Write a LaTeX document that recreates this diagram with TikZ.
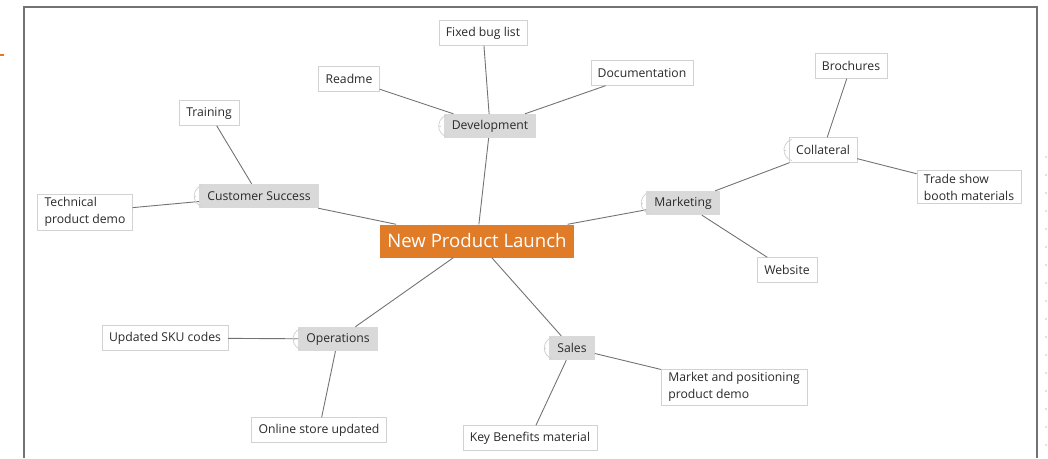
\documentclass[tikz,border=0pt]{standalone}
\usepackage{fontspec}
\setmainfont{Open Sans}
\definecolor{launch}{HTML}{E07B28}
\definecolor{branchgray}{HTML}{D9D9D9}
\definecolor{boxline}{HTML}{D2D2D2}
\definecolor{ink}{HTML}{2A2A2A}
\definecolor{linkgray}{HTML}{737373}

\begin{document}
\begin{tikzpicture}[x=1pt,y=-1pt,
    root/.style={fill=launch,text=white,font=\fontsize{18.6}{20}\selectfont,minimum height=33pt,inner xsep=7pt},
    branch/.style={fill=branchgray,text=ink,font=\fontsize{12.2}{14}\selectfont,minimum height=24pt,inner xsep=8pt},
    leaf/.style={draw=boxline,fill=white,text=ink,font=\fontsize{12.2}{17}\selectfont,minimum height=25pt,inner xsep=7pt,align=left},
    link/.style={draw=linkgray,line width=0.9pt},
    knob/.style={draw=boxline,line width=0.8pt}]
  \useasboundingbox (0,0) rectangle (1048,458);
  \draw[gray!90!black,line width=2pt] (24,458) -- (24,7) -- (1037,7) -- (1037,458);
  \draw[launch,line width=1.5pt] (0,55) -- (3.5,55);
  \foreach \y in {157,175,...,445}{
    \fill[gray] (1046,\y) circle(0.7pt);
  }

  \node[root] (launch) at (477,241) {New Product Launch};
  \node[branch] (dev) at (490,126) {Development};
  \node[branch] (cust) at (259,196) {Customer Success};
  \node[branch] (mkt) at (683,203) {Marketing};
  \node[leaf] (coll) at (823,150) {Collateral};
  \node[branch] (ops) at (338,339) {Operations};
  \node[branch] (sales) at (572,348) {Sales};

  \node[leaf] (bugs) at (483,33) {Fixed bug list};
  \node[leaf] (docs) at (642,73) {Documentation};
  \node[leaf] (readme) at (349,79) {Readme};
  \node[leaf] (training) at (209,113) {Training};
  \node[leaf] (techdemo) at (85,212) {Technical\\product demo};
  \node[leaf] (brochures) at (851,66) {Brochures};
  \node[leaf] (tradeshow) at (969,187) {Trade show\\booth materials};
  \node[leaf] (website) at (787,270) {Website};
  \node[leaf] (sku) at (165,338) {Updated SKU codes};
  \node[leaf] (store) at (319,430) {Online store updated};
  \node[leaf] (posdemo) at (734,387) {Market and positioning\\product demo};
  \node[leaf] (benefits) at (530,438) {Key Benefits material};

  \foreach \a/\b in {launch/dev,launch/cust,launch/mkt,launch/ops,launch/sales,
      dev/bugs,dev/docs,dev/readme,cust/training,cust/techdemo,mkt/coll,mkt/website,
      coll/brochures,coll/tradeshow,ops/sku,ops/store,sales/posdemo,sales/benefits}{
    \draw[link] (\a) -- (\b);
  }

  % collapse knobs
  \foreach \n in {dev,cust,mkt,coll,ops,sales}{
    \draw[knob] ([xshift=3pt]\n.west) ++(0,-10.6) arc[start angle=106,end angle=254,radius=11pt];
    \draw[boxline,line width=0.5pt] ([xshift=-5pt]\n.west) -- ++(2,0);
  }
\end{tikzpicture}
\end{document}
